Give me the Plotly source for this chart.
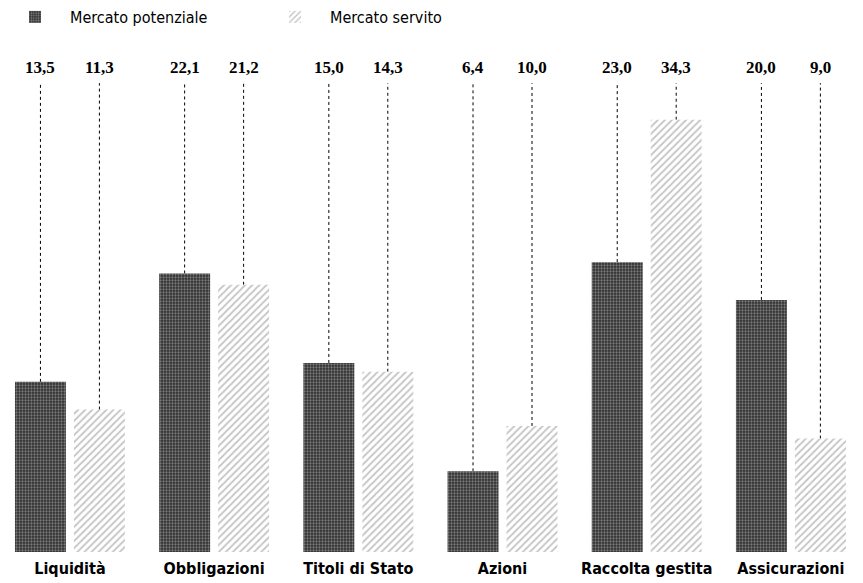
import plotly.graph_objects as go

categories = ["Liquidità", "Obbligazioni", "Titoli di Stato", "Azioni", "Raccolta gestita", "Assicurazioni"]
mercato_potenziale = [13.5, 22.1, 15.0, 6.4, 23.0, 20.0]
mercato_servito = [11.3, 21.2, 14.3, 10.0, 34.3, 9.0]
series_names = ["Mercato potenziale", "Mercato servito"]

LABEL_Y = 37.5
LINE_TOP = 37.2
BARGAP = 0.182
BARGROUPGAP = 0.136

def fmt(v):
    return f"{v:.1f}".replace(".", ",")

fig = go.Figure()
fig.add_trace(go.Bar(
    name=series_names[0], x=categories, y=mercato_potenziale,
    marker=dict(color="#2e2e2e", line=dict(width=0),
                pattern=dict(shape=".", bgcolor="#2e2e2e", fgcolor="#c8c8c8",
                             size=3, solidity=0.45, fillmode="overlay")),
))
fig.add_trace(go.Bar(
    name=series_names[1], x=categories, y=mercato_servito,
    marker=dict(color="white", line=dict(width=0),
                pattern=dict(shape="/", bgcolor="white", fgcolor="#8a8a8a",
                             size=5, solidity=0.35, fillmode="overlay")),
))

off = (1 - BARGAP) / 4
for i, cat in enumerate(categories):
    for sgn, vals in ((-1, mercato_potenziale), (1, mercato_servito)):
        xp = i + sgn * off
        fig.add_shape(type="line", xref="x", yref="y", x0=xp, x1=xp,
                      y0=vals[i], y1=LINE_TOP,
                      line=dict(color="black", width=1, dash="dot"), layer="below")
        fig.add_annotation(x=xp, y=LABEL_Y, xref="x", yref="y", text=fmt(vals[i]),
                           showarrow=False, yanchor="bottom",
                           font=dict(family="Liberation Serif", size=17, color="black", weight="bold"))

fig.update_layout(
    width=863, height=583,
    margin=dict(l=0, r=0, t=0, b=31),
    paper_bgcolor="white", plot_bgcolor="white",
    barmode="group", bargap=BARGAP, bargroupgap=BARGROUPGAP,
    showlegend=True,
    legend=dict(orientation="h", x=0.0, y=1.0, xanchor="left", yanchor="top",
                font=dict(family="DejaVu Sans Condensed", size=16, color="black"),
                itemwidth=60, entrywidth=185, entrywidthmode="pixels",
                traceorder="normal", bgcolor="rgba(0,0,0,0)"),
    xaxis=dict(type="category", range=[-0.485, 5.5], showgrid=False, showline=False,
               zeroline=False, ticks="", ticklabelstandoff=5,
               tickfont=dict(family="DejaVu Sans Condensed", size=16, color="black", weight="bold")),
    yaxis=dict(range=[0, 43.8], visible=False, showgrid=False, zeroline=False),
)

fig.write_html("out.html", config={"displayModeBar": False},
               post_script="document.body.style.margin='0';document.body.style.overflow='hidden';")
